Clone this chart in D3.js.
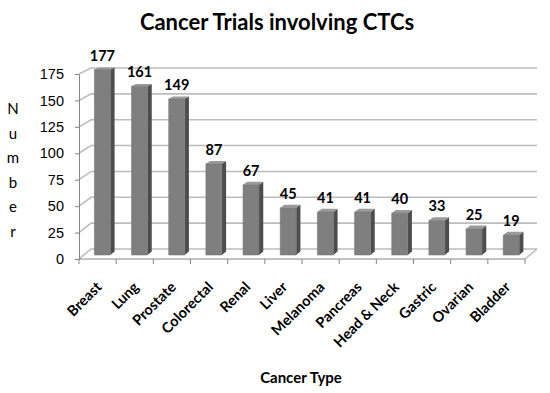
<!DOCTYPE html>
<html>
<head>
<meta charset="utf-8">
<script src="https://cdn.jsdelivr.net/npm/d3@7"></script>
<style>
  body { margin: 0; background: #fff; }
  svg { display: block; font-family: Lato, "Open Sans", sans-serif; }
</style>
</head>
<body>
<div id="chartContainer"></div>
<script>
const categories = ["Breast", "Lung", "Prostate", "Colorectal", "Renal", "Liver",
  "Melanoma", "Pancreas", "Head & Neck", "Gastric", "Ovarian", "Bladder"];
const trials = [177, 161, 149, 87, 67, 45, 41, 41, 40, 33, 25, 19];
const yTicks = [0, 25, 50, 75, 100, 125, 150, 175];

const width = 550;
const height = 393;
const depthX = 12; // shift of the back wall

const x = d3.scaleBand()
  .domain(categories)
  .range([79, 525]);

// front and back of the 3d box
const yFront = d3.scaleLinear().domain([0, 175]).range([259, 74]);
const yBack = d3.scaleLinear().domain([0, 175]).range([249, 68]);

function P(px, v, d) {
  return [px + depthX * d, yFront(v) * (1 - d) + yBack(v) * d];
}

const svg = d3.create("svg")
  .attr("width", width)
  .attr("height", height)
  .attr("viewBox", [0, 0, width, height]);

document.getElementById("chartContainer").appendChild(svg.node());

const line = d3.line();
const x0 = x.range()[0], x1 = x.range()[1];

// gridlines: side wall + back wall
svg.append("g")
  .attr("fill", "none")
  .attr("stroke", "#bdbdbd")
  .attr("stroke-width", 1.6)
  .selectAll("path")
  .data(yTicks)
  .join("path")
  .attr("d", t => line([P(x0, t, 0), P(x0, t, 1), P(x1, t, 1)]));

// floor
svg.append("path")
  .attr("fill", "none")
  .attr("stroke", "#bdbdbd")
  .attr("stroke-width", 1.6)
  .attr("d", line([P(x1, 0, 0), P(x1, 0, 1)]));

// front axes
svg.append("g")
  .attr("transform", `translate(${x0},0)`)
  .call(d3.axisLeft(yFront).tickValues(yTicks).tickSize(4).tickPadding(11).tickSizeOuter(0))
  .call(g => g.selectAll("line, path").attr("stroke", "#868686"))
  .call(g => g.selectAll("text").attr("font-size", 14.5).attr("fill", "#000"));

const bottom = svg.append("g").attr("stroke", "#868686");
bottom.append("line")
  .attr("x1", x0).attr("x2", x1)
  .attr("y1", yFront(0)).attr("y2", yFront(0));
bottom.selectAll(".tick")
  .data(categories.map(c => x(c)).concat([x1]))
  .join("line")
  .attr("x1", d => d).attr("x2", d => d)
  .attr("y1", yFront(0)).attr("y2", yFront(0) + 5);

// bars
const barW = 16, d0 = 0.4, d1 = 0.75;
const bars = svg.append("g")
  .selectAll("g")
  .data(categories.map((c, i) => ({ c, v: trials[i] })))
  .join("g");

const bx = d => x(d.c) + (x.bandwidth() - barW) / 2;

bars.append("path") // side
  .attr("fill", "#4d4d4d")
  .attr("d", d => line([P(bx(d) + barW, 0, d0), P(bx(d) + barW, 0, d1),
    P(bx(d) + barW, d.v, d1), P(bx(d) + barW, d.v, d0)]) + "Z");
bars.append("path") // top
  .attr("fill", "#9a9a9a")
  .attr("d", d => line([P(bx(d), d.v, d0), P(bx(d) + barW, d.v, d0),
    P(bx(d) + barW, d.v, d1), P(bx(d), d.v, d1)]) + "Z");
bars.append("path") // front
  .attr("fill", "#7f7f7f")
  .attr("stroke", "#6e6e6e")
  .attr("stroke-width", 0.5)
  .attr("d", d => line([P(bx(d), 0, d0), P(bx(d) + barW, 0, d0),
    P(bx(d) + barW, d.v, d0), P(bx(d), d.v, d0)]) + "Z");

// value labels
bars.append("text")
  .attr("x", d => P(bx(d) + barW / 2, d.v, d0)[0])
  .attr("y", d => P(bx(d), d.v, d0)[1] - 9)
  .attr("text-anchor", "middle")
  .attr("font-size", 14.5)
  .attr("font-weight", "bold")
  .text(d => d.v);

// category labels
svg.append("g")
  .selectAll("text")
  .data(categories)
  .join("text")
  .attr("transform", c => `translate(${x(c) + x.bandwidth() / 2 + 5},${yFront(0) + 29}) rotate(-45)`)
  .attr("text-anchor", "end")
  .attr("font-size", 14.5)
  .attr("font-weight", "bold")
  .text(c => c);

// title
svg.append("text")
  .attr("x", 277)
  .attr("y", 30)
  .attr("text-anchor", "middle")
  .attr("font-size", 22)
  .attr("font-weight", "bold")
  .text("Cancer Trials involving CTCs");

// axis titles
svg.append("text")
  .attr("x", 301)
  .attr("y", 383)
  .attr("text-anchor", "middle")
  .attr("font-size", 15)
  .attr("font-weight", "bold")
  .text("Cancer Type");

svg.append("text")
  .attr("font-size", 15)
  .attr("text-anchor", "middle")
  .selectAll("tspan")
  .data("Number".split(""))
  .join("tspan")
  .attr("x", 13)
  .attr("y", (ch, i) => 114 + i * 24.5)
  .text(ch => ch);
</script>
</body>
</html>
